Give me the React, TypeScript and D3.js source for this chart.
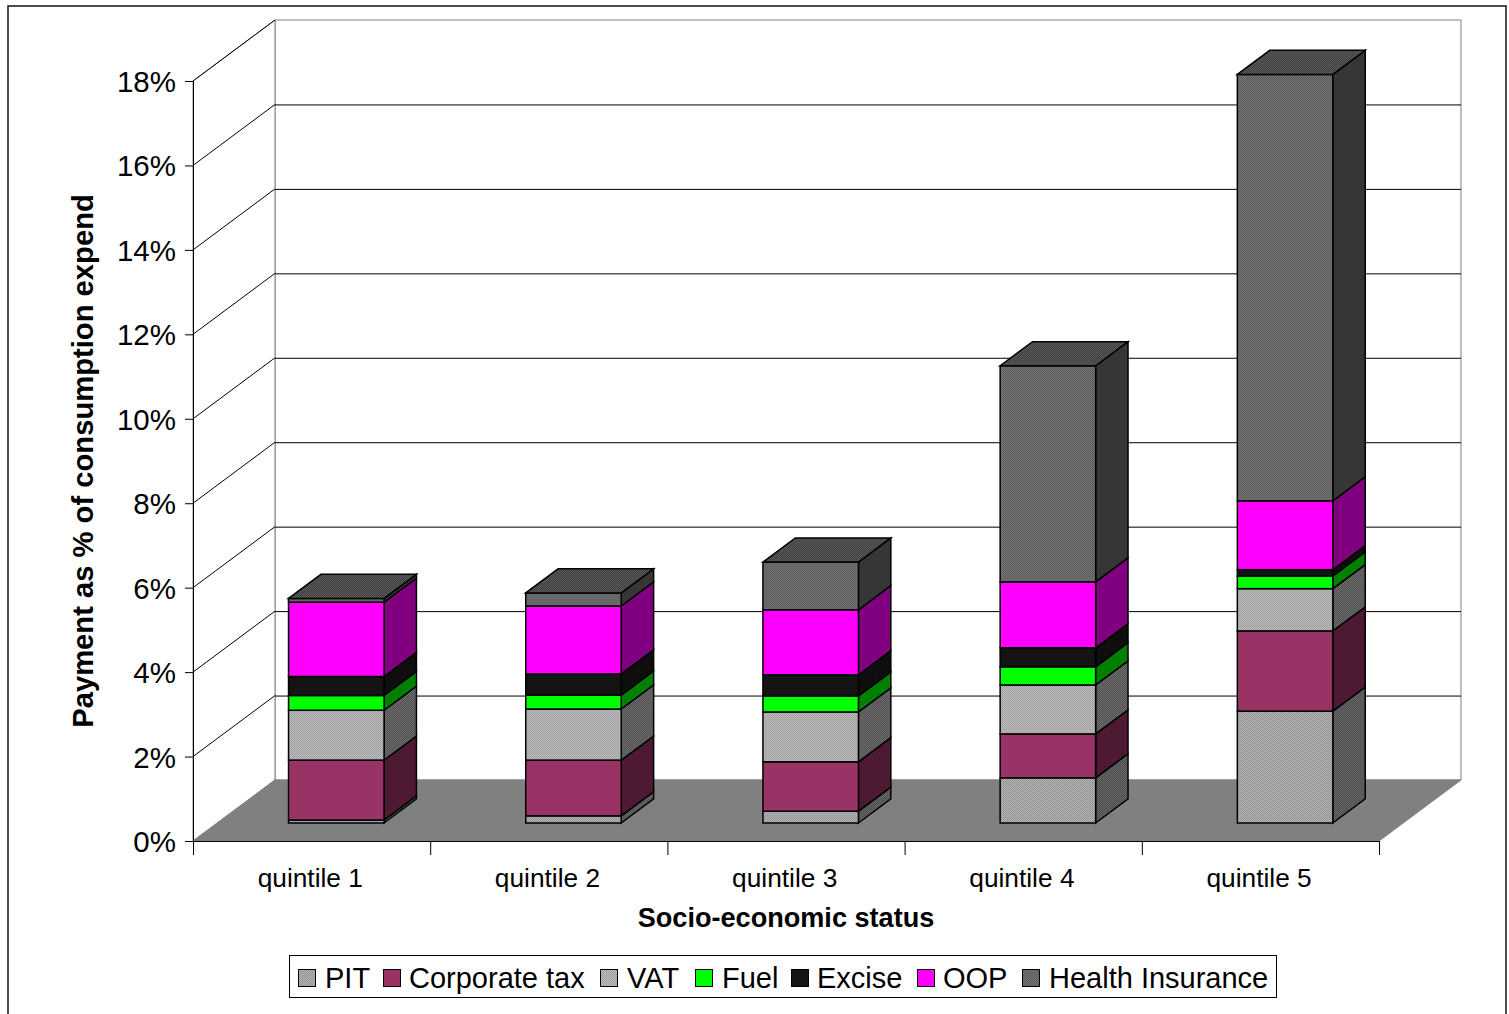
import React from "react";
import * as d3 from "d3";

const categories = ["quintile 1", "quintile 2", "quintile 3", "quintile 4", "quintile 5"];
const seriesNames = ["PIT", "Corporate tax", "VAT", "Fuel", "Excise", "OOP", "Health Insurance"];
const pit = [0.07, 0.17, 0.28, 1.07, 2.65];
const corporateTax = [1.42, 1.32, 1.17, 1.04, 1.9];
const vat = [1.18, 1.21, 1.18, 1.16, 1.0];
const fuel = [0.35, 0.33, 0.38, 0.43, 0.3];
const excise = [0.45, 0.5, 0.5, 0.45, 0.15];
const oop = [1.76, 1.61, 1.54, 1.56, 1.63];
const healthInsurance = [0.09, 0.31, 1.13, 5.12, 10.1];
const allSeries = [pit, corporateTax, vat, fuel, excise, oop, healthInsurance];
const yTicks = [0, 2, 4, 6, 8, 10, 12, 14, 16, 18];

const faces = [
  { a: "#b4b4b4", b: "#939393", side: "#4c4c4c", sideB: "#686868", top: "#555" },
  { a: "#993366", b: "#993366", side: "#4d1933", sideB: "#4d1933", top: "#4d1933" },
  { a: "#bcbcbc", b: "#a0a0a0", side: "#515151", sideB: "#6c6c6c", top: "#555" },
  { a: "#00ff00", b: "#00ff00", side: "#008000", sideB: "#008000", top: "#008000" },
  { a: "#0c0c0c", b: "#1c1c1c", side: "#080808", sideB: "#141414", top: "#111" },
  { a: "#ff00ff", b: "#ff00ff", side: "#800080", sideB: "#800080", top: "#800080" },
  { a: "#747474", b: "#5c5c5c", side: "#2e2e2e", sideB: "#3e3e3e", top: "#3f3f3f" },
];
const healthTopLight = "#5a5a5a";

const FONT = "'Liberation Sans', Arial, sans-serif";
const x0 = 193, x1 = 1379, yBase = 841, yTop = 81;
const dx = 82, dy = -61;
const barDepth = 0.395;
const barFront = 0.295;

const App = () => {
  const y = d3.scaleLinear().domain([0, 18]).range([yBase, yTop]);
  const band = d3.scaleBand().domain(categories).range([x0, x1]).paddingInner(0).paddingOuter(0);
  const w = 95.5;
  const stack = d3.stack<number[]>()
    .keys(seriesNames)
    .value((d, key) => d[seriesNames.indexOf(key)])(
      categories.map((_, i) => allSeries.map((s) => s[i])) as any
    );
  const legendItems = [
    { lx: 298, tx: 325 }, { lx: 383, tx: 409 }, { lx: 600, tx: 627 }, { lx: 695, tx: 722 },
    { lx: 791, tx: 817 }, { lx: 917, tx: 943 }, { lx: 1022, tx: 1049 },
  ];
  const pts = (p: number[][]) => p.map((q) => q.join(",")).join(" ");
  return (
    <svg width={1509} height={1014} style={{ position: "absolute", left: 0, top: 0, background: "#fff" }} fontFamily={FONT}>
      <defs>
        {faces.map((f, i) => (
          <React.Fragment key={i}>
            <pattern id={`f${i}`} width={2} height={2} patternUnits="userSpaceOnUse">
              <rect width={2} height={2} fill={f.a} />
              <rect width={1} height={1} fill={f.b} />
              <rect x={1} y={1} width={1} height={1} fill={f.b} />
            </pattern>
            <pattern id={`s${i}`} width={2} height={2} patternUnits="userSpaceOnUse">
              <rect width={2} height={2} fill={f.side} />
              <rect width={1} height={1} fill={f.sideB} />
              <rect x={1} y={1} width={1} height={1} fill={f.sideB} />
            </pattern>
          </React.Fragment>
        ))}
        <pattern id="topHI" width={2} height={2} patternUnits="userSpaceOnUse">
          <rect width={2} height={2} fill={faces[6].top} />
          <rect width={1} height={1} fill={healthTopLight} />
          <rect x={1} y={1} width={1} height={1} fill={healthTopLight} />
        </pattern>
      </defs>
      <rect x={8} y={6} width={1498} height={1030} fill="#fff" stroke="#222" strokeWidth={1.6} />
      {/* walls */}
      <polygon points={pts([[x0 + dx, yTop + dy], [x1 + dx, yTop + dy], [x1 + dx, yBase + dy], [x0 + dx, yBase + dy]])} fill="#fff" stroke="#808080" />
      <polygon points={pts([[x0, yTop], [x0 + dx, yTop + dy], [x0 + dx, yBase + dy], [x0, yBase]])} fill="#fff" stroke="#808080" />
      <polygon points={pts([[x0, yBase], [x1, yBase], [x1 + dx, yBase + dy], [x0 + dx, yBase + dy]])} fill="#808080" stroke="#808080" />
      {yTicks.map((t) => (
        <g key={t}>
          {t > 0 && t < 18 && <line x1={x0 + dx} x2={x1 + dx} y1={y(t) + dy + 0.5} y2={y(t) + dy + 0.5} stroke="#000" />}
          {t > 0 && <line x1={x0} x2={x0 + dx} y1={y(t)} y2={y(t) + dy} stroke="#000" />}
          <line x1={x0 - 8} x2={x0} y1={y(t) + 0.5} y2={y(t) + 0.5} stroke="#000" />
          <text x={176} y={y(t) + 11} fontSize={29.5} textAnchor="end">{t}%</text>
        </g>
      ))}
      <line x1={x0 + 0.5} x2={x0 + 0.5} y1={yTop} y2={yBase + 14} stroke="#000" />
      <line x1={x0} x2={x1} y1={yBase + 0.5} y2={yBase + 0.5} stroke="#000" />
      {d3.range(6).map((i) => {
        const tx = x0 + (i * (x1 - x0)) / 5;
        return <line key={i} x1={tx + 0.5} x2={tx + 0.5} y1={yBase} y2={yBase + 14} stroke="#000" />;
      })}
      {/* bars */}
      {categories.map((c, ci) => {
        const cx = (band(c) as number) + band.bandwidth() / 2 + dx * barFront + 0.5;
        const xl = cx - w / 2, xr = cx + w / 2;
        const oy = dy * barFront;
        const ddx = dx * barDepth, ddy = dy * barDepth;
        return (
          <g key={c}>
            {stack.map((layer, si) => {
              const d = layer[ci];
              const yb = y(d[0]) + oy, yt = y(d[1]) + oy;
              return (
                <g key={si} stroke="#000" strokeWidth={1.5} strokeLinejoin="miter">
                  <polygon fill={`url(#s${si})`} points={pts([[xr, yb], [xr + ddx, yb + ddy], [xr + ddx, yt + ddy], [xr, yt]])} />
                  <rect x={xl} y={yt} width={w} height={yb - yt} fill={`url(#f${si})`} />
                  {si === stack.length - 1 && (
                    <polygon fill="url(#topHI)" points={pts([[xl, yt], [xl + ddx, yt + ddy], [xr + ddx, yt + ddy], [xr, yt]])} />
                  )}
                </g>
              );
            })}
            <text x={cx - 26} y={887} fontSize={26.3} textAnchor="middle">{c}</text>
          </g>
        );
      })}
      <text x={786} y={927} fontSize={27.1} fontWeight="bold" textAnchor="middle">Socio-economic status</text>
      <text transform="translate(93,461) rotate(-90)" fontSize={29.2} fontWeight="bold" textAnchor="middle">Payment as % of consumption expend</text>
      {/* legend */}
      <rect x={289.5} y={955.5} width={987} height={42} fill="#fff" stroke="#000" />
      {seriesNames.map((n, i) => (
        <g key={n}>
          <rect x={legendItems[i].lx + 0.5} y={969.5} width={17} height={17} fill={`url(#f${i})`} stroke="#000" strokeWidth={1} />
          <text x={legendItems[i].tx} y={988} fontSize={29}>{n}</text>
        </g>
      ))}
    </svg>
  );
};

export default App;
